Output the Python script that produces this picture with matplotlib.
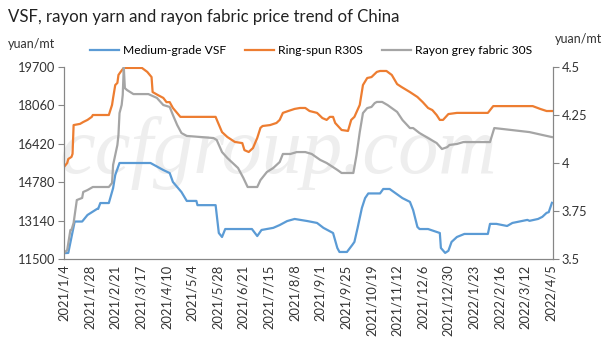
import matplotlib.pyplot as plt
import pandas as pd

plt.rcParams['font.family'] = ['Lato', 'DejaVu Sans']

# Medium-grade VSF, yuan/mt (left axis)
vsf_dates = ['2021-01-04', '2021-01-08', '2021-01-14', '2021-01-21', '2021-01-26', '2021-02-04',
             '2021-02-05', '2021-02-07', '2021-02-15', '2021-02-19', '2021-02-21', '2021-02-25',
             '2021-03-26', '2021-04-07', '2021-04-13', '2021-04-16', '2021-04-24', '2021-04-29',
             '2021-05-08', '2021-05-09', '2021-05-26', '2021-05-29', '2021-06-01', '2021-06-04',
             '2021-06-29', '2021-07-04', '2021-07-08', '2021-07-19', '2021-07-25', '2021-08-01',
             '2021-08-08', '2021-08-20', '2021-08-29', '2021-09-04', '2021-09-13', '2021-09-17',
             '2021-09-19', '2021-09-26', '2021-10-01', '2021-10-03', '2021-10-06', '2021-10-10',
             '2021-10-13', '2021-10-16', '2021-10-27', '2021-10-30', '2021-11-05', '2021-11-17',
             '2021-11-24', '2021-11-27', '2021-12-01', '2021-12-03', '2021-12-11', '2021-12-22',
             '2021-12-23', '2021-12-27', '2021-12-30', '2022-01-02', '2022-01-07', '2022-01-14',
             '2022-02-05', '2022-02-07', '2022-02-13', '2022-02-23', '2022-02-28', '2022-03-14',
             '2022-03-16', '2022-03-24', '2022-03-28', '2022-04-01', '2022-04-03', '2022-04-06']
vsf_price = [11750, 11760, 13100, 13100, 13380, 13640,
             13640, 13890, 13890, 14530, 15090, 15600,
             15600, 15300, 15170, 14790, 14360, 13980,
             13980, 13800, 13800, 12610, 12440, 12780,
             12780, 12480, 12740, 12830, 12950, 13120,
             13210, 13120, 13040, 12830, 12610, 11970,
             11800, 11800, 12100, 12230, 12830, 13680,
             14100, 14300, 14300, 14490, 14490, 14100,
             13940, 13590, 12870, 12780, 12780, 12610,
             11970, 11760, 11850, 12230, 12440, 12570,
             12570, 13000, 13000, 12910, 13040, 13170,
             13130, 13210, 13300, 13470, 13500, 13900]

# Ring-spun R30S (left axis)
r30s_dates = ['2021-01-04', '2021-01-07', '2021-01-08', '2021-01-11', '2021-01-12', '2021-01-13',
              '2021-01-19', '2021-01-22', '2021-01-26', '2021-01-30', '2021-01-31', '2021-02-15',
              '2021-02-18', '2021-02-19', '2021-02-21', '2021-02-23', '2021-02-24', '2021-02-26',
              '2021-02-28', '2021-03-02', '2021-03-18', '2021-03-23', '2021-03-27', '2021-03-28',
              '2021-04-02', '2021-04-07', '2021-04-10', '2021-04-13', '2021-04-16', '2021-04-23',
              '2021-05-26', '2021-05-28', '2021-06-01', '2021-06-06', '2021-06-13', '2021-06-20',
              '2021-06-22', '2021-06-26', '2021-06-30', '2021-07-04', '2021-07-07', '2021-07-09',
              '2021-07-16', '2021-07-22', '2021-07-25', '2021-07-28', '2021-08-02', '2021-08-08',
              '2021-08-13', '2021-08-18', '2021-08-22', '2021-08-29', '2021-09-03', '2021-09-07',
              '2021-09-10', '2021-09-13', '2021-09-15', '2021-09-21', '2021-09-27', '2021-09-30',
              '2021-10-03', '2021-10-08', '2021-10-11', '2021-10-15', '2021-10-19', '2021-10-24',
              '2021-10-27', '2021-11-02', '2021-11-07', '2021-11-12', '2021-11-16', '2021-11-24',
              '2021-12-01', '2021-12-06', '2021-12-11', '2021-12-15', '2021-12-19', '2021-12-22',
              '2021-12-25', '2021-12-30', '2022-01-07', '2022-02-05', '2022-02-10', '2022-03-19',
              '2022-03-26', '2022-04-01', '2022-04-06']
r30s_price = [15430, 15600, 15770, 15860, 15990, 17220,
              17270, 17350, 17440, 17570, 17650, 17650,
              18080, 18380, 18930, 19020, 19360, 19490,
              19610, 19660, 19660, 19490, 19270, 18630,
              18500, 18380, 18200, 18200, 17950, 17570,
              17570, 17350, 16920, 16710, 16500, 16450,
              16150, 16070, 16240, 16670, 17100, 17180,
              17220, 17310, 17440, 17740, 17820, 17910,
              17950, 17950, 17820, 17740, 17520, 17440,
              17570, 17570, 17310, 17010, 16970, 17440,
              17570, 18080, 18930, 19230, 19270, 19490,
              19530, 19530, 19360, 18970, 18850, 18630,
              18420, 18200, 17950, 17860, 17650, 17440,
              17440, 17690, 17740, 17740, 18030, 18030,
              17910, 17820, 17820]

# Rayon grey fabric 30S (right axis)
fabric_dates = ['2021-01-04', '2021-01-07', '2021-01-10', '2021-01-11', '2021-01-13', '2021-01-16',
                '2021-01-21', '2021-01-22', '2021-01-26', '2021-01-31', '2021-02-15', '2021-02-18',
                '2021-02-19', '2021-02-23', '2021-02-24', '2021-02-25', '2021-02-27', '2021-02-28',
                '2021-03-01', '2021-03-02', '2021-03-04', '2021-03-10', '2021-03-24', '2021-04-01',
                '2021-04-07', '2021-04-13', '2021-04-16', '2021-04-20', '2021-04-24', '2021-04-29',
                '2021-05-24', '2021-05-27', '2021-06-01', '2021-06-06', '2021-06-11', '2021-06-16',
                '2021-06-21', '2021-06-25', '2021-07-04', '2021-07-07', '2021-07-13', '2021-07-19',
                '2021-07-25', '2021-07-28', '2021-08-04', '2021-08-10', '2021-08-18', '2021-08-24',
                '2021-09-01', '2021-09-07', '2021-09-17', '2021-09-21', '2021-10-02', '2021-10-05',
                '2021-10-08', '2021-10-11', '2021-10-15', '2021-10-19', '2021-10-22', '2021-10-24',
                '2021-10-29', '2021-11-03', '2021-11-12', '2021-11-17', '2021-11-24', '2021-11-27',
                '2021-12-03', '2021-12-11', '2021-12-19', '2021-12-24', '2021-12-29', '2021-12-31',
                '2022-01-07', '2022-01-13', '2022-02-07', '2022-02-11', '2022-02-19', '2022-03-16',
                '2022-03-28', '2022-04-06']
fabric_price = [3.531, 3.547, 3.651, 3.651, 3.688, 3.807,
                3.818, 3.849, 3.859, 3.875, 3.875, 3.896,
                3.99, 4.094, 4.146, 4.26, 4.302, 4.354,
                4.5, 4.39, 4.38, 4.359, 4.359, 4.339,
                4.302, 4.292, 4.25, 4.198, 4.156, 4.141,
                4.13, 4.12, 4.057, 4.026, 4.0, 3.974,
                3.922, 3.875, 3.875, 3.911, 3.953, 3.974,
                4.005, 4.047, 4.047, 4.057, 4.057, 4.047,
                4.016, 4.0, 3.964, 3.948, 3.948, 4.042,
                4.161, 4.26, 4.286, 4.292, 4.312, 4.318,
                4.318, 4.302, 4.266, 4.224, 4.182, 4.182,
                4.156, 4.13, 4.104, 4.073, 4.083, 4.094,
                4.099, 4.109, 4.109, 4.182, 4.177, 4.161,
                4.146, 4.135]

left_ticks = [11500, 13140, 14780, 16420, 18060, 19700]
right_ticks = [3.5, 3.75, 4, 4.25, 4.5]
right_labels = ['3.5', '3.75', '4', '4.25', '4.5']
date_ticks = pd.date_range('2021-01-04', '2022-04-05', freq='24D')

blue = '#5B9BD5'
orange = '#ED7D31'
grey = '#A5A5A5'
axis_col = '#868686'

fig = plt.figure(figsize=(6.05, 3.4), dpi=100)
ax = fig.add_axes([64 / 605, 1 - 259 / 340, (553 - 64) / 605, 192 / 340])
ax2 = ax.twinx()

# faint site watermark behind the lines
ax.text(60 / 605, 0.49, 'ccfgroup.com', transform=fig.transFigure, fontsize=58,
        family='Liberation Serif', style='italic', color='#EEEEEE', zorder=0)

l1, = ax.plot(pd.to_datetime(vsf_dates), vsf_price, color=blue, lw=1.6, zorder=3)
l2, = ax.plot(pd.to_datetime(r30s_dates), r30s_price, color=orange, lw=1.6, zorder=3)
l3, = ax2.plot(pd.to_datetime(fabric_dates), fabric_price, color=grey, lw=1.6)

ax.set_xlim(pd.Timestamp('2021-01-04'), pd.Timestamp('2022-04-07'))
ax.set_ylim(11500, 19700)
ax2.set_ylim(3.5, 4.5)
ax.set_yticks(left_ticks)
ax.set_yticklabels([str(v) for v in left_ticks])
ax2.set_yticks(right_ticks)
ax2.set_yticklabels(right_labels)
ax.set_xticks(date_ticks)
ax.set_xticklabels([f'{d.year}/{d.month}/{d.day}' for d in date_ticks], rotation=90)

for a in (ax, ax2):
    a.patch.set_visible(False)
    a.spines['top'].set_visible(False)
    for s in ('left', 'right', 'bottom'):
        a.spines[s].set_color(axis_col)
    a.tick_params(axis='y', length=4, color=axis_col, labelsize=9.3, labelcolor='#333333', pad=2)
ax.tick_params(axis='x', length=0, labelsize=9.3, labelcolor='#333333', pad=4)

fig.text(8 / 605, 1 - 17 / 340, 'VSF, rayon yarn and rayon fabric price trend of China',
         fontsize=12.1, va='center', color='#222222')
fig.text(8 / 605, 1 - 44 / 340, 'yuan/mt', fontsize=9, va='center', color='#333333')
fig.text(555 / 605, 1 - 39 / 340, 'yuan/mt', fontsize=9, va='center', color='#333333')

fig.legend([l1, l2, l3], ['Medium-grade VSF', 'Ring-spun R30S', 'Rayon grey fabric 30S'],
           loc='center', bbox_to_anchor=(311 / 605, 1 - 51 / 340), ncol=3, frameon=False,
           fontsize=8.7, handlelength=2.4, columnspacing=1.6, handletextpad=0.3)

fig.savefig('out.png', dpi=100)
